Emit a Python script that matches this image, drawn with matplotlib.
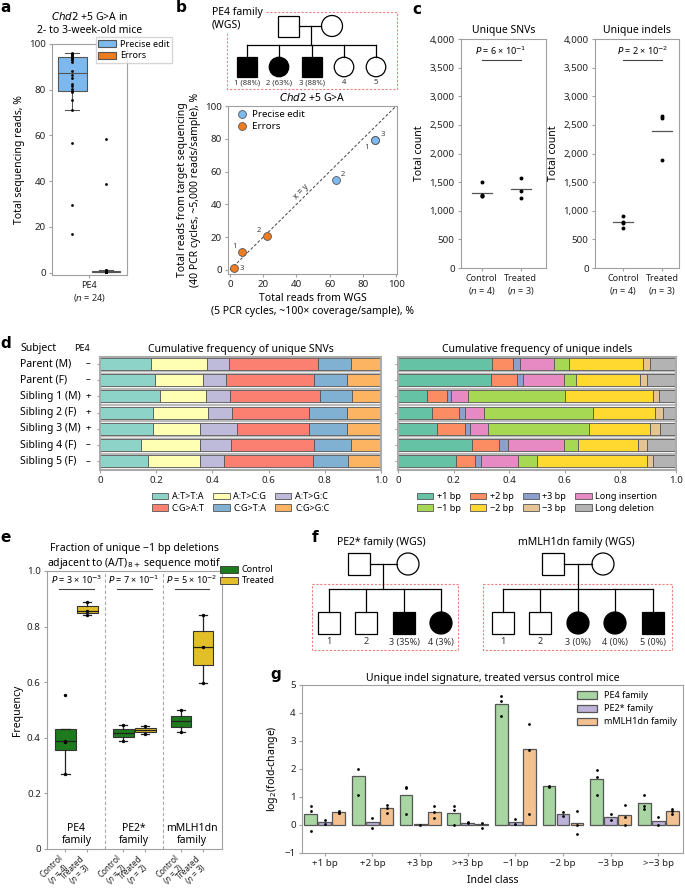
import matplotlib
matplotlib.use("Agg")
import matplotlib.pyplot as plt
from matplotlib.patches import Rectangle, Circle, Patch
from matplotlib.transforms import blended_transform_factory
import numpy as np

# ---------------- data ----------------
# a: Chd2 +5 G>A, PE4 mice (n = 24)
a_precise = [96, 95.5, 95.5, 95, 94.8, 94.5, 94.2, 94, 93.5, 93, 92, 88, 86.5, 85,
             82.5, 81.5, 80.5, 79.5, 79, 75.5, 71, 56.5, 29.5, 17]
a_errors = [58.5, 38.9, 1.2, 1.0, 0.9, 0.8, 0.8, 0.7, 0.7, 0.6, 0.6, 0.5, 0.5, 0.5,
            0.4, 0.4, 0.3, 0.3, 0.3, 0.2, 0.2, 0.2, 0.1, 0.1]

# b: WGS vs target sequencing
b_wgs_precise = [87.5, 63.5, 87.5]
b_tgt_precise = [79, 55, 79]
b_wgs_errors = [7.5, 22, 2.5]
b_tgt_errors = [11, 20.5, 1]
b_sibs = ['1', '2', '3']

# c: unique SNV / indel counts
c_snv_control = [1500, 1270, 1255, 1250]
c_snv_treated = [1570, 1350, 1230]
c_indel_control = [900, 800, 790, 700]
c_indel_treated = [2650, 2620, 1890]
c_p_snv = ('6', '-1')
c_p_indel = ('2', '-2')

# d: cumulative frequency
d_subjects = ['Parent (M)', 'Parent (F)', 'Sibling 1 (M)', 'Sibling 2 (F)',
              'Sibling 3 (M)', 'Sibling 4 (F)', 'Sibling 5 (F)']
d_pe4 = ['–', '–', '+', '+', '+', '–', '–']
snv_classes = ['A:T>T:A', 'A:T>C:G', 'A:T>G:C', 'C:G>A:T', 'C:G>T:A', 'C:G>G:C']
snv_frac = [[.182, .198, .079, .317, .116, .108],
            [.196, .172, .079, .313, .120, .120],
            [.213, .163, .085, .321, .116, .102],
            [.187, .199, .085, .271, .138, .120],
            [.187, .169, .132, .256, .136, .120],
            [.147, .209, .111, .296, .131, .106],
            [.171, .185, .086, .317, .125, .116]]
indel_classes = ['+1 bp', '+2 bp', '+3 bp', 'Long insertion',
                 '−1 bp', '−2 bp', '−3 bp', 'Long deletion']
indel_frac = [[.338, .077, .024, .122, .053, .267, .024, .095],
              [.335, .093, .023, .145, .045, .231, .025, .103],
              [.103, .074, .015, .060, .348, .317, .021, .062],
              [.121, .100, .019, .071, .392, .223, .026, .048],
              [.139, .103, .018, .065, .363, .217, .036, .059],
              [.267, .098, .032, .199, .051, .216, .034, .103],
              [.207, .071, .021, .133, .067, .396, .022, .083]]

# e: fraction of -1 bp deletions next to (A/T)8+
e_groups = ['PE4\nfamily', 'PE2*\nfamily', 'mMLH1dn\nfamily']
e_control = [[0.555, 0.39, 0.385, 0.27], [0.445, 0.387], [0.50, 0.42]]
e_treated = [[0.89, 0.855, 0.84], [0.443, 0.412], [0.84, 0.725, 0.597]]
e_p = [('3', '-3'), ('7', '-1'), ('5', '-2')]

# g: unique indel signature
g_classes = ['+1 bp', '+2 bp', '+3 bp', '>+3 bp', '−1 bp', '−2 bp', '−3 bp', '>−3 bp']
g_pe4 = [0.38, 1.76, 1.08, 0.44, 4.33, 1.41, 1.63, 0.78]
g_pe2 = [0.12, 0.10, 0.02, 0.08, 0.12, 0.39, 0.28, 0.15]
g_mlh = [0.47, 0.59, 0.47, 0.03, 2.72, 0.08, 0.36, 0.49]
g_pe4_pts = [[0.68, 0.5, -0.23], [2.0, 1.07], [1.35, 1.32, 0.38], [0.68, 0.53, 0.01],
             [4.6, 4.42, 3.9], [1.41, 1.37], [1.97, 1.71, 1.06], [1.06, 0.68, 0.57]]
g_pe2_pts = [[0.17, 0.02], [0.25, -0.1], [0.0], [0.12, 0.06],
             [0.2, 0.02], [0.46, 0.32], [0.4, 0.17], [0.3, 0.0]]
g_mlh_pts = [[0.5, 0.44, 0.42], [0.71, 0.6, 0.42], [0.69, 0.45, 0.26], [0.06, -0.1],
             [3.61, 2.68, 0.38], [0.49, 0.0, -0.33], [0.7, 0.28, 0.0], [0.56, 0.5, 0.39]]

# ---------------- style ----------------
W, H = 685, 892
plt.rcParams['font.family'] = ['Noto Sans', 'DejaVu Sans']
plt.rcParams['font.size'] = 7
plt.rcParams['axes.edgecolor'] = '#a0a0a0'
plt.rcParams['axes.linewidth'] = 0.8
plt.rcParams['xtick.color'] = '#a0a0a0'
plt.rcParams['ytick.color'] = '#a0a0a0'
plt.rcParams['xtick.labelcolor'] = '#222222'
plt.rcParams['ytick.labelcolor'] = '#222222'
plt.rcParams['xtick.major.size'] = 2.5
plt.rcParams['ytick.major.size'] = 2.5
plt.rcParams['xtick.major.pad'] = 2
plt.rcParams['ytick.major.pad'] = 2
plt.rcParams['axes.labelsize'] = 7.5
plt.rcParams['axes.titlesize'] = 7.5
plt.rcParams['axes.labelpad'] = 3

c_precise = '#7db9ee'
c_errors = '#ee7d22'
snv_colors = ['#8dd3c7', '#ffffb3', '#bebada', '#fb8072', '#80b1d3', '#fdb462']
indel_colors = ['#66c2a5', '#fc8d62', '#8da0cb', '#e78ac3', '#a6d854', '#ffd92f', '#e5c494', '#b3b3b3']
c_ctrl = '#1d7a1d'
c_trt = '#e2bf28'
g_colors = ['#a8d5a2', '#bdb2d8', '#f3c18f']
edge = '#555555'

fig = plt.figure(figsize=(W / 100, H / 100), dpi=100)


def add_ax(x0, y0, x1, y1):
    return fig.add_axes([x0 / W, 1 - y1 / H, (x1 - x0) / W, (y1 - y0) / H])


over = fig.add_axes([0, 0, 1, 1], zorder=5)
over.set_xlim(0, W)
over.set_ylim(H, 0)
over.axis('off')
over.patch.set_alpha(0)

for lab, x, y in [('a', 0, 7), ('b', 176, 8), ('c', 412, 10), ('d', 0, 343),
                  ('e', 0, 537), ('f', 312, 537), ('g', 270, 674)]:
    over.text(x, y, lab, fontsize=11, fontweight='bold', ha='left', va='center',
              family='DejaVu Sans')

# ---------------- panel a ----------------
ax = add_ax(52, 44, 127, 275)
line_kw = dict(color=edge, lw=0.8)
bp = ax.boxplot([a_precise, a_errors], positions=[-0.2, 0.2], widths=0.34, patch_artist=True,
                showfliers=False, capwidths=0.16, boxprops=dict(edgecolor=edge, lw=0.8),
                medianprops=line_kw, whiskerprops=line_kw, capprops=line_kw)
for patch, col in zip(bp['boxes'], [c_precise, c_errors]):
    patch.set_facecolor(col)
ax.scatter(np.full(len(a_precise), -0.2), a_precise, s=4, color='k', lw=0, zorder=3)
ax.scatter(np.full(len(a_errors), 0.2), a_errors, s=4, color='k', lw=0, zorder=3)
ax.set_xlim(-0.44, 0.45)
ax.set_ylim(-1, 100)
ax.set_xticks([0])
ax.set_xticklabels(['PE4\n($n$ = 24)'], fontsize=6.5)
ax.set_yticks(range(0, 101, 20))
ax.set_ylabel('Total sequencing reads, %')
ax.set_title('$\\mathit{Chd2}$ +5 G>A in\n2- to 3-week-old mice', pad=8)
ax.legend(handles=[Patch(fc=c_precise, ec=edge, lw=0.8, label='Precise edit'),
                   Patch(fc=c_errors, ec=edge, lw=0.8, label='Errors')],
          loc='upper left', bbox_to_anchor=(0.58, 1.03), fontsize=6.5, frameon=True,
          fancybox=False, edgecolor='#cccccc', handlelength=2.0, handleheight=0.8,
          borderpad=0.3, labelspacing=0.3, handletextpad=0.4, borderaxespad=0)

# ---------------- panel b ----------------
ax = add_ax(228, 106, 397, 274)
ax.plot([0, 100], [0, 100], ls=(0, (3, 2)), color='#444444', lw=0.7, zorder=1)
ax.scatter(b_wgs_precise, b_tgt_precise, s=32, color=c_precise, edgecolor=edge, lw=0.6,
           zorder=3, label='Precise edit')
ax.scatter(b_wgs_errors, b_tgt_errors, s=32, color=c_errors, edgecolor=edge, lw=0.6,
           zorder=3, label='Errors')
for (x, y, s), off in zip(zip(b_wgs_precise, b_tgt_precise, b_sibs), [(-8, -6), (4, 3), (4, 3)]):
    ax.annotate(s, (x, y), xytext=off, textcoords='offset points', fontsize=5.5, color='#444444')
for (x, y, s), off in zip(zip(b_wgs_errors, b_tgt_errors, b_sibs), [(-7, 3), (-7, 3), (4, -1)]):
    ax.annotate(s, (x, y), xytext=off, textcoords='offset points', fontsize=5.5, color='#444444')
ax.text(43, 48, 'x = y', rotation=45, ha='center', va='center', fontsize=6, color='#333333')
ax.set_xlim(-1.2, 100.5)
ax.set_ylim(-2.5, 100)
ax.set_xticks(range(0, 101, 20))
ax.set_yticks(range(0, 101, 20))
ax.set_title('$\\mathit{Chd2}$ +5 G>A', pad=3.5)
ax.set_ylabel('Total reads from target sequencing\n(40 PCR cycles, ~5,000 reads/sample), %')
ax.set_xlabel('Total reads from WGS\n(5 PCR cycles, ~100× coverage/sample), %')
ax.legend(loc='upper left', frameon=False, fontsize=7, handletextpad=0.1,
          borderaxespad=0.2, labelspacing=0.3, borderpad=0.2)

# ---------------- pedigrees ----------------


def pedigree(par_y, father_x, mother_x, psize, drop_x, sib_y, kids_x, kid_y, ksize,
             sexes, affected, labels, lab_y, fs):
    lw = 0.9
    over.add_patch(Rectangle((father_x - psize / 2, par_y - psize / 2), psize, psize,
                             fc='white', ec='k', lw=lw))
    over.add_patch(Circle((mother_x, par_y), psize / 2, fc='white', ec='k', lw=lw))
    over.plot([father_x + psize / 2, mother_x - psize / 2], [par_y, par_y], color='k', lw=lw)
    over.plot([drop_x, drop_x], [par_y, sib_y], color='k', lw=lw)
    over.plot([kids_x[0], kids_x[-1]], [sib_y, sib_y], color='k', lw=lw)
    for kx, s, a, lab in zip(kids_x, sexes, affected, labels):
        over.plot([kx, kx], [sib_y, kid_y - ksize / 2], color='k', lw=lw)
        fc = 'k' if a else 'white'
        if s == 'M':
            over.add_patch(Rectangle((kx - ksize / 2, kid_y - ksize / 2), ksize, ksize,
                                     fc=fc, ec='k', lw=lw))
        else:
            over.add_patch(Circle((kx, kid_y), ksize / 2, fc=fc, ec='k', lw=lw))
        over.text(kx, lab_y, lab, ha='center', va='center', fontsize=fs, color='#333333')


red_dash = dict(color='#f08080', lw=0.8, ls=(0, (2, 1.5)))

# b pedigree
over.text(212, 19, 'PE4 family\n(WGS)', ha='left', va='center', fontsize=7.5, linespacing=1.2)
over.plot([266, 397, 397, 227, 227], [12, 12, 89, 89, 32], **red_dash)
pedigree(26, 288.5, 332, 21, 311, 45, [247, 279, 312, 344, 376], 67, 19.5,
         ['M', 'F', 'M', 'F', 'F'], [1, 1, 1, 0, 0],
         ['1 (88%)', '2 (63%)', '3 (88%)', '4', '5'], 83, 5.5)

# f pedigrees
over.text(381, 542, 'PE2* family (WGS)', ha='center', va='center', fontsize=7.5)
over.add_patch(Rectangle((312, 584), 146, 66, fill=False, **red_dash))
pedigree(564, 359.5, 408, 22, 383, 589, [329, 366, 404, 441], 623, 22,
         ['M', 'M', 'M', 'F'], [0, 0, 1, 1], ['1', '2', '3 (35%)', '4 (3%)'], 642, 6.5)

over.text(576, 542, 'mMLH1dn family (WGS)', ha='center', va='center', fontsize=7.5)
over.add_patch(Rectangle((483, 584), 189, 66, fill=False, **red_dash))
pedigree(564, 553.5, 603, 22, 578, 589, [503, 540, 578, 615, 653], 623, 22,
         ['M', 'M', 'F', 'F', 'M'], [0, 0, 1, 1, 1],
         ['1', '2', '3 (0%)', '4 (0%)', '5 (0%)'], 642, 6.5)

# ---------------- panel c ----------------
c_specs = [((461, 546), (-0.53, 1.65), 'Unique SNVs', c_snv_control, c_snv_treated, c_p_snv),
           ((595, 679), (-0.72, 1.43), 'Unique indels', c_indel_control, c_indel_treated, c_p_indel)]
for (x0, x1), xl, title, ctrl, trt, (pm, pe) in c_specs:
    ax = add_ax(x0, 39, x1, 268)
    for i, vals in enumerate([ctrl, trt]):
        ax.scatter(np.full(len(vals), i), vals, s=8, color='k', lw=0, zorder=3)
        ax.plot([i - 0.26, i + 0.26], [np.mean(vals)] * 2, color='#555555', lw=0.9)
    ax.plot([0, 1], [3640, 3640], color='#444444', lw=0.8)
    ax.text(0.5, 3680, f'$P$ = {pm} × 10$^{{{pe}}}$', ha='center', va='bottom', fontsize=6.5)
    ax.set_xlim(*xl)
    ax.set_ylim(0, 4000)
    ax.set_yticks(range(0, 4001, 500))
    ax.set_yticklabels([f'{v:,}' for v in range(0, 4001, 500)])
    ax.set_xticks([0, 1])
    ax.set_xticklabels([f'Control\n($n$ = {len(ctrl)})', f'Treated\n($n$ = {len(trt)})'],
                       fontsize=6.5)
    ax.set_ylabel('Total count')
    ax.set_title(title, pad=4)

# ---------------- panel d ----------------
rows = np.arange(len(d_subjects))
d_specs = [((100, 381), snv_frac, snv_colors, snv_classes,
            'Cumulative frequency of unique SNVs', 3, [0, 3, 1, 4, 2, 5]),
           ((398, 676), indel_frac, indel_colors, indel_classes,
            'Cumulative frequency of unique indels', 4, [0, 4, 1, 5, 2, 6, 3, 7])]
for k, ((x0, x1), frac, cols, classes, title, ncol, order) in enumerate(d_specs):
    ax = add_ax(x0, 356.5, x1, 469.5)
    frac = np.array(frac)
    ax.barh(rows, np.ones(len(rows)), height=0.92, color='white', edgecolor='#bbbbbb',
            lw=1.0, zorder=0)
    left = np.zeros(len(rows))
    for j in range(frac.shape[1]):
        ax.barh(rows, frac[:, j], left=left, height=0.74, color=cols[j], edgecolor=edge,
                lw=0.6, zorder=2)
        left += frac[:, j]
    ax.set_xlim(0, 1)
    ax.set_ylim(6.5, -0.45)
    ax.set_yticks(rows)
    ax.set_yticklabels([])
    ax.set_xticks(np.arange(0, 1.01, 0.2))
    ax.set_xticklabels(['0', '0.2', '0.4', '0.6', '0.8', '1.0'])
    for sp in ax.spines.values():
        sp.set_color('#aaaaaa')
        sp.set_linewidth(1.5)
    ax.set_title(title, pad=3)
    handles = [Patch(fc=cols[i], ec=edge, lw=0.6, label=classes[i]) for i in order]
    ax.legend(handles=handles, ncol=ncol, loc='upper center', bbox_to_anchor=(0.5, -0.17),
              frameon=False, fontsize=6.5, handlelength=1.8, handleheight=0.7,
              columnspacing=1.0, handletextpad=0.4, labelspacing=0.25, borderaxespad=0)
    if k == 0:
        trans = blended_transform_factory(fig.transFigure, ax.transData)
        for r, (name, sign) in enumerate(zip(d_subjects, d_pe4)):
            ax.text(20 / W, r, name, transform=trans, ha='left', va='center', fontsize=7.5)
            ax.text(88 / W, r, sign, transform=trans, ha='center', va='center', fontsize=7)
        ax.text(20 / W, -0.95, 'Subject', transform=trans, ha='left', va='center', fontsize=7.5)
        ax.text(82 / W, -0.95, 'PE4', transform=trans, ha='center', va='center', fontsize=6.5)

# ---------------- panel e ----------------
ax = add_ax(47, 571, 222, 849)
grp = np.arange(len(e_groups))
for vals, pos, col in [(e_control, grp - 0.19, c_ctrl), (e_treated, grp + 0.19, c_trt)]:
    bp = ax.boxplot(vals, positions=pos, widths=0.36, patch_artist=True, showfliers=False,
                    capwidths=0.14, boxprops=dict(edgecolor='#333333', lw=0.8),
                    medianprops=dict(color='#222222', lw=0.9),
                    whiskerprops=dict(color='#222222', lw=0.9),
                    capprops=dict(color='#222222', lw=0.9))
    for patch in bp['boxes']:
        patch.set_facecolor(col)
    for p, v in zip(pos, vals):
        ax.scatter(np.full(len(v), p), v, s=6, color='k', lw=0, zorder=3)
for xv in [0.5, 1.5]:
    ax.axvline(xv, color='#aaaaaa', lw=0.8, ls=(0, (3, 2)))
for i, (pm, pe) in enumerate(e_p):
    ax.plot([i - 0.3, i + 0.3], [0.935, 0.935], color='#444444', lw=0.8)
    ax.text(i, 0.945, f'$P$ = {pm} × 10$^{{{pe}}}$', ha='center', va='bottom', fontsize=6.5)
    ax.text(i, 0.01, e_groups[i], ha='center', va='bottom', fontsize=7.5, linespacing=1.1)
ax.set_xlim(-0.51, 2.52)
ax.set_ylim(0, 1)
ax.set_yticks(np.arange(0, 1.01, 0.2))
ax.set_yticklabels(['0', '0.2', '0.4', '0.6', '0.8', '1.0'])
tick_pos = np.ravel(np.column_stack([grp - 0.19, grp + 0.19]))
tick_lab = []
for c, t in zip(e_control, e_treated):
    tick_lab += [f'Control\n($n$ = {len(c)})', f'Treated\n($n$ = {len(t)})']
ax.set_xticks(tick_pos)
ax.set_xticklabels(tick_lab, rotation=45, ha='right', va='center', rotation_mode='anchor',
                   fontsize=5.8, linespacing=0.9, multialignment='center')
ax.tick_params(axis='x', pad=6)
ax.set_ylabel('Frequency')
ax.set_title('Fraction of unique −1 bp deletions\nadjacent to (A/T)$_{8+}$ sequence motif', pad=2)
ax.legend(handles=[Patch(fc=c_ctrl, ec='#333333', lw=0.6, label='Control'),
                   Patch(fc=c_trt, ec='#333333', lw=0.6, label='Treated')],
          loc='upper left', bbox_to_anchor=(0.99, 1.02), frameon=False, fontsize=6.5,
          handlelength=2.0, handleheight=0.8, borderaxespad=0, labelspacing=0.2,
          handletextpad=0.4, borderpad=0)

# ---------------- panel g ----------------
ax = add_ax(302, 685, 683, 853)
x = np.arange(len(g_classes))
g_series = [(g_pe4, g_pe4_pts, 'PE4 family'), (g_pe2, g_pe2_pts, 'PE2* family'),
            (g_mlh, g_mlh_pts, 'mMLH1dn family')]
for k, (vals, pts, lab) in enumerate(g_series):
    off = (k - 1) * 0.295
    ax.bar(x + off, vals, width=0.27, color=g_colors[k], edgecolor=edge, lw=0.9, label=lab,
           zorder=2)
    for i, p in enumerate(pts):
        ax.scatter(np.full(len(p), x[i] + off), p, s=4, color='k', lw=0, zorder=3)
ax.set_xlim(-0.48, 7.52)
ax.set_ylim(-1, 5)
ax.set_yticks(range(-1, 6))
ax.set_xticks(x)
ax.set_xticklabels(g_classes)
ax.set_ylabel('log$_2$(fold-change)')
ax.set_xlabel('Indel class', labelpad=5)
ax.set_title('Unique indel signature, treated versus control mice', pad=3)
ax.legend(loc='upper right', frameon=False, fontsize=6.5, handlelength=2.2, handleheight=0.9,
          labelspacing=0.45, borderaxespad=0.3)

fig.savefig('out.png', dpi=100)
